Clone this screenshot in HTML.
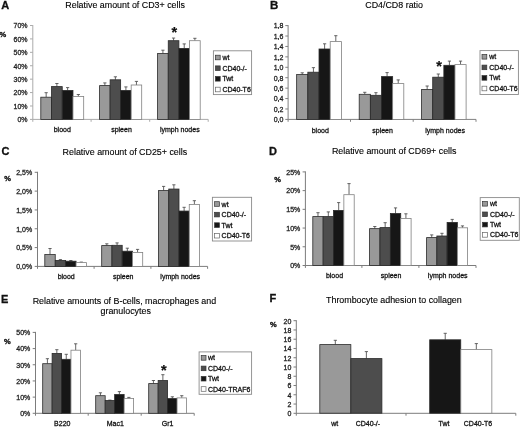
<!DOCTYPE html>
<html><head><meta charset="utf-8"><style>
html,body{margin:0;padding:0;background:#fff;}
body{width:520px;height:427px;overflow:hidden;}
svg{display:block;font-family:"Liberation Sans", sans-serif;filter:blur(0.3px);}
</style></head><body>
<svg width="520" height="427" viewBox="0 0 520 427">
<rect width="520" height="427" fill="#fff"/>
<text x="1.27" y="8.6" font-size="11" text-anchor="start" font-weight="bold" fill="#111" stroke="#111" stroke-width="0.3">A</text>
<text x="125.1" y="7.6" font-size="8.9" text-anchor="middle" font-weight="normal" fill="#000" stroke="#000" stroke-width="0.12">Relative amount of CD3+ cells</text>
<text x="-0.5" y="36.5" font-size="7.5" text-anchor="start" font-weight="bold" fill="#111" stroke="#111" stroke-width="0.35">%</text>
<line x1="32.8" y1="25.0" x2="32.8" y2="121.8" stroke="#ababab" stroke-width="1"/>
<line x1="30" y1="119.4" x2="32.8" y2="119.4" stroke="#ababab" stroke-width="1"/>
<text x="27.6" y="122.2" font-size="7" text-anchor="end" font-weight="normal" fill="#222" stroke="#222" stroke-width="0.28">0%</text>
<line x1="30" y1="105.99" x2="32.8" y2="105.99" stroke="#ababab" stroke-width="1"/>
<text x="27.6" y="108.79" font-size="7" text-anchor="end" font-weight="normal" fill="#222" stroke="#222" stroke-width="0.28">10%</text>
<line x1="30" y1="92.57" x2="32.8" y2="92.57" stroke="#ababab" stroke-width="1"/>
<text x="27.6" y="95.37" font-size="7" text-anchor="end" font-weight="normal" fill="#222" stroke="#222" stroke-width="0.28">20%</text>
<line x1="30" y1="79.16" x2="32.8" y2="79.16" stroke="#ababab" stroke-width="1"/>
<text x="27.6" y="81.96" font-size="7" text-anchor="end" font-weight="normal" fill="#222" stroke="#222" stroke-width="0.28">30%</text>
<line x1="30" y1="65.74" x2="32.8" y2="65.74" stroke="#ababab" stroke-width="1"/>
<text x="27.6" y="68.54" font-size="7" text-anchor="end" font-weight="normal" fill="#222" stroke="#222" stroke-width="0.28">40%</text>
<line x1="30" y1="52.33" x2="32.8" y2="52.33" stroke="#ababab" stroke-width="1"/>
<text x="27.6" y="55.13" font-size="7" text-anchor="end" font-weight="normal" fill="#222" stroke="#222" stroke-width="0.28">50%</text>
<line x1="30" y1="38.91" x2="32.8" y2="38.91" stroke="#ababab" stroke-width="1"/>
<text x="27.6" y="41.71" font-size="7" text-anchor="end" font-weight="normal" fill="#222" stroke="#222" stroke-width="0.28">60%</text>
<line x1="30" y1="25.5" x2="32.8" y2="25.5" stroke="#ababab" stroke-width="1"/>
<text x="27.6" y="28.3" font-size="7" text-anchor="end" font-weight="normal" fill="#222" stroke="#222" stroke-width="0.28">70%</text>
<line x1="32.8" y1="119.4" x2="208.2" y2="119.4" stroke="#ababab" stroke-width="1"/>
<line x1="91.1" y1="119.4" x2="91.1" y2="121.8" stroke="#ababab" stroke-width="1"/>
<line x1="149.7" y1="119.4" x2="149.7" y2="121.8" stroke="#ababab" stroke-width="1"/>
<line x1="208.2" y1="119.4" x2="208.2" y2="121.8" stroke="#ababab" stroke-width="1"/>
<text x="62.3" y="132.4" font-size="7" text-anchor="middle" font-weight="normal" fill="#111" stroke="#111" stroke-width="0.28">blood</text>
<text x="121.5" y="132.4" font-size="7" text-anchor="middle" font-weight="normal" fill="#111" stroke="#111" stroke-width="0.28">spleen</text>
<text x="179.8" y="132.4" font-size="7" text-anchor="middle" font-weight="normal" fill="#111" stroke="#111" stroke-width="0.28">lymph nodes</text>
<line x1="46.16" y1="97.2" x2="46.16" y2="92.7" stroke="#4a4a4a" stroke-width="0.85"/>
<line x1="44.56" y1="92.7" x2="47.76" y2="92.7" stroke="#4a4a4a" stroke-width="0.85"/>
<rect x="40.8" y="97.2" width="10.72" height="22.2" fill="#999999" stroke="#2a2a2a" stroke-width="0.8"/>
<line x1="56.89" y1="86.6" x2="56.89" y2="83.5" stroke="#4a4a4a" stroke-width="0.85"/>
<line x1="55.29" y1="83.5" x2="58.49" y2="83.5" stroke="#4a4a4a" stroke-width="0.85"/>
<rect x="51.52" y="86.6" width="10.72" height="32.8" fill="#4d4d4d" stroke="#2a2a2a" stroke-width="0.8"/>
<line x1="67.61" y1="90.4" x2="67.61" y2="87.6" stroke="#4a4a4a" stroke-width="0.85"/>
<line x1="66.01" y1="87.6" x2="69.21" y2="87.6" stroke="#4a4a4a" stroke-width="0.85"/>
<rect x="62.25" y="90.4" width="10.72" height="29" fill="#161616" stroke="#2a2a2a" stroke-width="0.8"/>
<line x1="78.34" y1="96.4" x2="78.34" y2="94.5" stroke="#4a4a4a" stroke-width="0.85"/>
<line x1="76.74" y1="94.5" x2="79.94" y2="94.5" stroke="#4a4a4a" stroke-width="0.85"/>
<rect x="72.97" y="96.4" width="10.72" height="23" fill="#ffffff" stroke="#808080" stroke-width="0.8"/>
<line x1="104.86" y1="85.6" x2="104.86" y2="82.9" stroke="#4a4a4a" stroke-width="0.85"/>
<line x1="103.26" y1="82.9" x2="106.46" y2="82.9" stroke="#4a4a4a" stroke-width="0.85"/>
<rect x="99.6" y="85.6" width="10.52" height="33.8" fill="#999999" stroke="#2a2a2a" stroke-width="0.8"/>
<line x1="115.39" y1="79.8" x2="115.39" y2="76.8" stroke="#4a4a4a" stroke-width="0.85"/>
<line x1="113.79" y1="76.8" x2="116.99" y2="76.8" stroke="#4a4a4a" stroke-width="0.85"/>
<rect x="110.12" y="79.8" width="10.52" height="39.6" fill="#4d4d4d" stroke="#2a2a2a" stroke-width="0.8"/>
<line x1="125.91" y1="90.4" x2="125.91" y2="86.9" stroke="#4a4a4a" stroke-width="0.85"/>
<line x1="124.31" y1="86.9" x2="127.51" y2="86.9" stroke="#4a4a4a" stroke-width="0.85"/>
<rect x="120.65" y="90.4" width="10.52" height="29" fill="#161616" stroke="#2a2a2a" stroke-width="0.8"/>
<line x1="136.44" y1="85.0" x2="136.44" y2="81.4" stroke="#4a4a4a" stroke-width="0.85"/>
<line x1="134.84" y1="81.4" x2="138.04" y2="81.4" stroke="#4a4a4a" stroke-width="0.85"/>
<rect x="131.18" y="85.0" width="10.52" height="34.4" fill="#ffffff" stroke="#808080" stroke-width="0.8"/>
<line x1="162.92" y1="53.4" x2="162.92" y2="50.2" stroke="#4a4a4a" stroke-width="0.85"/>
<line x1="161.32" y1="50.2" x2="164.52" y2="50.2" stroke="#4a4a4a" stroke-width="0.85"/>
<rect x="157.6" y="53.4" width="10.65" height="66.0" fill="#999999" stroke="#2a2a2a" stroke-width="0.8"/>
<line x1="173.57" y1="40.7" x2="173.57" y2="38.05" stroke="#4a4a4a" stroke-width="0.85"/>
<line x1="171.97" y1="38.05" x2="175.17" y2="38.05" stroke="#4a4a4a" stroke-width="0.85"/>
<rect x="168.25" y="40.7" width="10.65" height="78.7" fill="#4d4d4d" stroke="#2a2a2a" stroke-width="0.8"/>
<line x1="184.22" y1="48.4" x2="184.22" y2="43.9" stroke="#4a4a4a" stroke-width="0.85"/>
<line x1="182.62" y1="43.9" x2="185.82" y2="43.9" stroke="#4a4a4a" stroke-width="0.85"/>
<rect x="178.9" y="48.4" width="10.65" height="71.0" fill="#161616" stroke="#2a2a2a" stroke-width="0.8"/>
<line x1="194.88" y1="40.7" x2="194.88" y2="38.3" stroke="#4a4a4a" stroke-width="0.85"/>
<line x1="193.28" y1="38.3" x2="196.47" y2="38.3" stroke="#4a4a4a" stroke-width="0.85"/>
<rect x="189.55" y="40.7" width="10.65" height="78.7" fill="#ffffff" stroke="#808080" stroke-width="0.8"/>
<text x="174.3" y="36.6" font-size="14.5" text-anchor="middle" font-weight="bold" fill="#111" stroke="#111" stroke-width="0.2">*</text>
<rect x="213.4" y="50.8" width="38.2" height="43.8" fill="#fff" stroke="#8a8a8a" stroke-width="0.9"/>
<rect x="215.4" y="55.2" width="4.8" height="4.6" fill="#999999" stroke="#333" stroke-width="0.7"/>
<text x="222.4" y="60.0" font-size="7" text-anchor="start" font-weight="normal" fill="#111" stroke="#111" stroke-width="0.28">wt</text>
<rect x="215.4" y="65.9" width="4.8" height="4.6" fill="#4d4d4d" stroke="#333" stroke-width="0.7"/>
<text x="222.4" y="70.7" font-size="7" text-anchor="start" font-weight="normal" fill="#111" stroke="#111" stroke-width="0.28">CD40-/-</text>
<rect x="215.4" y="76.5" width="4.8" height="4.6" fill="#161616" stroke="#333" stroke-width="0.7"/>
<text x="222.4" y="81.3" font-size="7" text-anchor="start" font-weight="normal" fill="#111" stroke="#111" stroke-width="0.28">Twt</text>
<rect x="215.4" y="87.2" width="4.8" height="4.6" fill="#ffffff" stroke="#666" stroke-width="0.7"/>
<text x="222.4" y="92.0" font-size="7" text-anchor="start" font-weight="normal" fill="#111" stroke="#111" stroke-width="0.28">CD40-T6</text>
<text x="270.0" y="8.5" font-size="11.5" text-anchor="start" font-weight="bold" fill="#111" stroke="#111" stroke-width="0.3">B</text>
<text x="394.1" y="7.7" font-size="8.9" text-anchor="middle" font-weight="normal" fill="#000" stroke="#000" stroke-width="0.12">CD4/CD8 ratio</text>
<line x1="288.1" y1="25.1" x2="288.1" y2="121.8" stroke="#808080" stroke-width="1"/>
<line x1="285.3" y1="119.4" x2="288.1" y2="119.4" stroke="#808080" stroke-width="1"/>
<text x="283.4" y="122.2" font-size="7" text-anchor="end" font-weight="normal" fill="#222" stroke="#222" stroke-width="0.28">0,0</text>
<line x1="285.3" y1="108.98" x2="288.1" y2="108.98" stroke="#808080" stroke-width="1"/>
<text x="283.4" y="111.78" font-size="7" text-anchor="end" font-weight="normal" fill="#222" stroke="#222" stroke-width="0.28">0,2</text>
<line x1="285.3" y1="98.56" x2="288.1" y2="98.56" stroke="#808080" stroke-width="1"/>
<text x="283.4" y="101.36" font-size="7" text-anchor="end" font-weight="normal" fill="#222" stroke="#222" stroke-width="0.28">0,4</text>
<line x1="285.3" y1="88.13" x2="288.1" y2="88.13" stroke="#808080" stroke-width="1"/>
<text x="283.4" y="90.93" font-size="7" text-anchor="end" font-weight="normal" fill="#222" stroke="#222" stroke-width="0.28">0,6</text>
<line x1="285.3" y1="77.71" x2="288.1" y2="77.71" stroke="#808080" stroke-width="1"/>
<text x="283.4" y="80.51" font-size="7" text-anchor="end" font-weight="normal" fill="#222" stroke="#222" stroke-width="0.28">0,8</text>
<line x1="285.3" y1="67.29" x2="288.1" y2="67.29" stroke="#808080" stroke-width="1"/>
<text x="283.4" y="70.09" font-size="7" text-anchor="end" font-weight="normal" fill="#222" stroke="#222" stroke-width="0.28">1,0</text>
<line x1="285.3" y1="56.87" x2="288.1" y2="56.87" stroke="#808080" stroke-width="1"/>
<text x="283.4" y="59.67" font-size="7" text-anchor="end" font-weight="normal" fill="#222" stroke="#222" stroke-width="0.28">1,2</text>
<line x1="285.3" y1="46.44" x2="288.1" y2="46.44" stroke="#808080" stroke-width="1"/>
<text x="283.4" y="49.24" font-size="7" text-anchor="end" font-weight="normal" fill="#222" stroke="#222" stroke-width="0.28">1,4</text>
<line x1="285.3" y1="36.02" x2="288.1" y2="36.02" stroke="#808080" stroke-width="1"/>
<text x="283.4" y="38.82" font-size="7" text-anchor="end" font-weight="normal" fill="#222" stroke="#222" stroke-width="0.28">1,6</text>
<line x1="285.3" y1="25.6" x2="288.1" y2="25.6" stroke="#808080" stroke-width="1"/>
<text x="283.4" y="28.4" font-size="7" text-anchor="end" font-weight="normal" fill="#222" stroke="#222" stroke-width="0.28">1,8</text>
<line x1="288.1" y1="119.4" x2="476.0" y2="119.4" stroke="#808080" stroke-width="1"/>
<line x1="350.5" y1="119.4" x2="350.5" y2="121.8" stroke="#808080" stroke-width="1"/>
<line x1="413.2" y1="119.4" x2="413.2" y2="121.8" stroke="#808080" stroke-width="1"/>
<line x1="476.0" y1="119.4" x2="476.0" y2="121.8" stroke="#808080" stroke-width="1"/>
<text x="320.3" y="132.5" font-size="7" text-anchor="middle" font-weight="normal" fill="#111" stroke="#111" stroke-width="0.28">blood</text>
<text x="382.6" y="132.5" font-size="7" text-anchor="middle" font-weight="normal" fill="#111" stroke="#111" stroke-width="0.28">spleen</text>
<text x="445.1" y="132.5" font-size="7" text-anchor="middle" font-weight="normal" fill="#111" stroke="#111" stroke-width="0.28">lymph nodes</text>
<line x1="302.24" y1="74.5" x2="302.24" y2="72.8" stroke="#4a4a4a" stroke-width="0.85"/>
<line x1="300.64" y1="72.8" x2="303.84" y2="72.8" stroke="#4a4a4a" stroke-width="0.85"/>
<rect x="296.65" y="74.5" width="11.19" height="44.9" fill="#999999" stroke="#2a2a2a" stroke-width="0.8"/>
<line x1="313.43" y1="72.2" x2="313.43" y2="67.65" stroke="#4a4a4a" stroke-width="0.85"/>
<line x1="311.83" y1="67.65" x2="315.03" y2="67.65" stroke="#4a4a4a" stroke-width="0.85"/>
<rect x="307.84" y="72.2" width="11.19" height="47.2" fill="#4d4d4d" stroke="#2a2a2a" stroke-width="0.8"/>
<line x1="324.62" y1="49.0" x2="324.62" y2="43.8" stroke="#4a4a4a" stroke-width="0.85"/>
<line x1="323.02" y1="43.8" x2="326.22" y2="43.8" stroke="#4a4a4a" stroke-width="0.85"/>
<rect x="319.02" y="49.0" width="11.19" height="70.4" fill="#161616" stroke="#2a2a2a" stroke-width="0.8"/>
<line x1="335.81" y1="41.6" x2="335.81" y2="35.7" stroke="#4a4a4a" stroke-width="0.85"/>
<line x1="334.21" y1="35.7" x2="337.41" y2="35.7" stroke="#4a4a4a" stroke-width="0.85"/>
<rect x="330.21" y="41.6" width="11.19" height="77.8" fill="#ffffff" stroke="#808080" stroke-width="0.8"/>
<line x1="364.77" y1="94.3" x2="364.77" y2="92.3" stroke="#4a4a4a" stroke-width="0.85"/>
<line x1="363.17" y1="92.3" x2="366.38" y2="92.3" stroke="#4a4a4a" stroke-width="0.85"/>
<rect x="359.2" y="94.3" width="11.15" height="25.1" fill="#999999" stroke="#2a2a2a" stroke-width="0.8"/>
<line x1="375.92" y1="95.3" x2="375.92" y2="92.7" stroke="#4a4a4a" stroke-width="0.85"/>
<line x1="374.32" y1="92.7" x2="377.52" y2="92.7" stroke="#4a4a4a" stroke-width="0.85"/>
<rect x="370.35" y="95.3" width="11.15" height="24.1" fill="#4d4d4d" stroke="#2a2a2a" stroke-width="0.8"/>
<line x1="387.07" y1="76.6" x2="387.07" y2="72.6" stroke="#4a4a4a" stroke-width="0.85"/>
<line x1="385.47" y1="72.6" x2="388.68" y2="72.6" stroke="#4a4a4a" stroke-width="0.85"/>
<rect x="381.5" y="76.6" width="11.15" height="42.8" fill="#161616" stroke="#2a2a2a" stroke-width="0.8"/>
<line x1="398.22" y1="83.6" x2="398.22" y2="79.9" stroke="#4a4a4a" stroke-width="0.85"/>
<line x1="396.62" y1="79.9" x2="399.82" y2="79.9" stroke="#4a4a4a" stroke-width="0.85"/>
<rect x="392.65" y="83.6" width="11.15" height="35.8" fill="#ffffff" stroke="#808080" stroke-width="0.8"/>
<line x1="427.16" y1="89.4" x2="427.16" y2="86.0" stroke="#4a4a4a" stroke-width="0.85"/>
<line x1="425.56" y1="86.0" x2="428.76" y2="86.0" stroke="#4a4a4a" stroke-width="0.85"/>
<rect x="421.6" y="89.4" width="11.13" height="30" fill="#999999" stroke="#2a2a2a" stroke-width="0.8"/>
<line x1="438.29" y1="77.2" x2="438.29" y2="74.0" stroke="#4a4a4a" stroke-width="0.85"/>
<line x1="436.69" y1="74.0" x2="439.89" y2="74.0" stroke="#4a4a4a" stroke-width="0.85"/>
<rect x="432.72" y="77.2" width="11.13" height="42.2" fill="#4d4d4d" stroke="#2a2a2a" stroke-width="0.8"/>
<line x1="449.41" y1="65.3" x2="449.41" y2="61.1" stroke="#4a4a4a" stroke-width="0.85"/>
<line x1="447.81" y1="61.1" x2="451.01" y2="61.1" stroke="#4a4a4a" stroke-width="0.85"/>
<rect x="443.85" y="65.3" width="11.13" height="54.1" fill="#161616" stroke="#2a2a2a" stroke-width="0.8"/>
<line x1="460.54" y1="64.6" x2="460.54" y2="61.1" stroke="#4a4a4a" stroke-width="0.85"/>
<line x1="458.94" y1="61.1" x2="462.14" y2="61.1" stroke="#4a4a4a" stroke-width="0.85"/>
<rect x="454.97" y="64.6" width="11.13" height="54.8" fill="#ffffff" stroke="#808080" stroke-width="0.8"/>
<text x="439.1" y="71.2" font-size="14.5" text-anchor="middle" font-weight="bold" fill="#111" stroke="#111" stroke-width="0.2">*</text>
<rect x="480.0" y="50.6" width="38.4" height="43.9" fill="#fff" stroke="#8a8a8a" stroke-width="0.9"/>
<rect x="482.0" y="54.5" width="4.8" height="4.6" fill="#999999" stroke="#333" stroke-width="0.7"/>
<text x="489.3" y="59.3" font-size="7" text-anchor="start" font-weight="normal" fill="#111" stroke="#111" stroke-width="0.28">wt</text>
<rect x="482.0" y="65.1" width="4.8" height="4.6" fill="#4d4d4d" stroke="#333" stroke-width="0.7"/>
<text x="489.3" y="69.9" font-size="7" text-anchor="start" font-weight="normal" fill="#111" stroke="#111" stroke-width="0.28">CD40-/-</text>
<rect x="482.0" y="75.6" width="4.8" height="4.6" fill="#161616" stroke="#333" stroke-width="0.7"/>
<text x="489.3" y="80.4" font-size="7" text-anchor="start" font-weight="normal" fill="#111" stroke="#111" stroke-width="0.28">Twt</text>
<rect x="482.0" y="86.2" width="4.8" height="4.6" fill="#ffffff" stroke="#666" stroke-width="0.7"/>
<text x="489.3" y="91.0" font-size="7" text-anchor="start" font-weight="normal" fill="#111" stroke="#111" stroke-width="0.28">CD40-T6</text>
<text x="1.46" y="155.4" font-size="11" text-anchor="start" font-weight="bold" fill="#111" stroke="#111" stroke-width="0.3">C</text>
<text x="124.9" y="154.6" font-size="8.9" text-anchor="middle" font-weight="normal" fill="#000" stroke="#000" stroke-width="0.12">Relative amount of CD25+ cells</text>
<text x="4.25" y="181.3" font-size="7.5" text-anchor="start" font-weight="bold" fill="#111" stroke="#111" stroke-width="0.35">%</text>
<line x1="37.5" y1="171.8" x2="37.5" y2="268.8" stroke="#7c7c7c" stroke-width="1"/>
<line x1="34.7" y1="266.4" x2="37.5" y2="266.4" stroke="#7c7c7c" stroke-width="1"/>
<text x="32.2" y="269.2" font-size="7" text-anchor="end" font-weight="normal" fill="#222" stroke="#222" stroke-width="0.28">0,0%</text>
<line x1="34.7" y1="247.58" x2="37.5" y2="247.58" stroke="#7c7c7c" stroke-width="1"/>
<text x="32.2" y="250.38" font-size="7" text-anchor="end" font-weight="normal" fill="#222" stroke="#222" stroke-width="0.28">0,5%</text>
<line x1="34.7" y1="228.76" x2="37.5" y2="228.76" stroke="#7c7c7c" stroke-width="1"/>
<text x="32.2" y="231.56" font-size="7" text-anchor="end" font-weight="normal" fill="#222" stroke="#222" stroke-width="0.28">1,0%</text>
<line x1="34.7" y1="209.94" x2="37.5" y2="209.94" stroke="#7c7c7c" stroke-width="1"/>
<text x="32.2" y="212.74" font-size="7" text-anchor="end" font-weight="normal" fill="#222" stroke="#222" stroke-width="0.28">1,5%</text>
<line x1="34.7" y1="191.12" x2="37.5" y2="191.12" stroke="#7c7c7c" stroke-width="1"/>
<text x="32.2" y="193.92" font-size="7" text-anchor="end" font-weight="normal" fill="#222" stroke="#222" stroke-width="0.28">2,0%</text>
<line x1="34.7" y1="172.3" x2="37.5" y2="172.3" stroke="#7c7c7c" stroke-width="1"/>
<text x="32.2" y="175.1" font-size="7" text-anchor="end" font-weight="normal" fill="#222" stroke="#222" stroke-width="0.28">2,5%</text>
<line x1="37.5" y1="266.4" x2="207.6" y2="266.4" stroke="#7c7c7c" stroke-width="1"/>
<line x1="94.1" y1="266.4" x2="94.1" y2="268.8" stroke="#7c7c7c" stroke-width="1"/>
<line x1="150.9" y1="266.4" x2="150.9" y2="268.8" stroke="#7c7c7c" stroke-width="1"/>
<line x1="207.6" y1="266.4" x2="207.6" y2="268.8" stroke="#7c7c7c" stroke-width="1"/>
<text x="66.2" y="279.0" font-size="7" text-anchor="middle" font-weight="normal" fill="#111" stroke="#111" stroke-width="0.28">blood</text>
<text x="123.2" y="279.0" font-size="7" text-anchor="middle" font-weight="normal" fill="#111" stroke="#111" stroke-width="0.28">spleen</text>
<text x="180.2" y="279.0" font-size="7" text-anchor="middle" font-weight="normal" fill="#111" stroke="#111" stroke-width="0.28">lymph nodes</text>
<line x1="50.01" y1="254.55" x2="50.01" y2="248.5" stroke="#4a4a4a" stroke-width="0.85"/>
<line x1="48.41" y1="248.5" x2="51.61" y2="248.5" stroke="#4a4a4a" stroke-width="0.85"/>
<rect x="44.8" y="254.55" width="10.43" height="11.85" fill="#999999" stroke="#2a2a2a" stroke-width="0.8"/>
<line x1="60.44" y1="260.4" x2="60.44" y2="259.6" stroke="#4a4a4a" stroke-width="0.85"/>
<line x1="58.84" y1="259.6" x2="62.04" y2="259.6" stroke="#4a4a4a" stroke-width="0.85"/>
<rect x="55.23" y="260.4" width="10.43" height="6" fill="#4d4d4d" stroke="#2a2a2a" stroke-width="0.8"/>
<line x1="70.86" y1="261.2" x2="70.86" y2="260.5" stroke="#4a4a4a" stroke-width="0.85"/>
<line x1="69.26" y1="260.5" x2="72.46" y2="260.5" stroke="#4a4a4a" stroke-width="0.85"/>
<rect x="65.65" y="261.2" width="10.43" height="5.2" fill="#161616" stroke="#2a2a2a" stroke-width="0.8"/>
<line x1="81.29" y1="262.6" x2="81.29" y2="262.1" stroke="#4a4a4a" stroke-width="0.85"/>
<line x1="79.69" y1="262.1" x2="82.89" y2="262.1" stroke="#4a4a4a" stroke-width="0.85"/>
<rect x="76.08" y="262.6" width="10.43" height="3.8" fill="#ffffff" stroke="#808080" stroke-width="0.8"/>
<line x1="106.83" y1="245.6" x2="106.83" y2="243.8" stroke="#4a4a4a" stroke-width="0.85"/>
<line x1="105.23" y1="243.8" x2="108.42" y2="243.8" stroke="#4a4a4a" stroke-width="0.85"/>
<rect x="101.7" y="245.6" width="10.25" height="20.8" fill="#999999" stroke="#2a2a2a" stroke-width="0.8"/>
<line x1="117.08" y1="245.3" x2="117.08" y2="242.9" stroke="#4a4a4a" stroke-width="0.85"/>
<line x1="115.48" y1="242.9" x2="118.67" y2="242.9" stroke="#4a4a4a" stroke-width="0.85"/>
<rect x="111.95" y="245.3" width="10.25" height="21.1" fill="#4d4d4d" stroke="#2a2a2a" stroke-width="0.8"/>
<line x1="127.33" y1="251.2" x2="127.33" y2="248.2" stroke="#4a4a4a" stroke-width="0.85"/>
<line x1="125.73" y1="248.2" x2="128.93" y2="248.2" stroke="#4a4a4a" stroke-width="0.85"/>
<rect x="122.2" y="251.2" width="10.25" height="15.2" fill="#161616" stroke="#2a2a2a" stroke-width="0.8"/>
<line x1="137.57" y1="252.4" x2="137.57" y2="249.4" stroke="#4a4a4a" stroke-width="0.85"/>
<line x1="135.97" y1="249.4" x2="139.17" y2="249.4" stroke="#4a4a4a" stroke-width="0.85"/>
<rect x="132.45" y="252.4" width="10.25" height="14" fill="#ffffff" stroke="#808080" stroke-width="0.8"/>
<line x1="163.62" y1="190.6" x2="163.62" y2="186.4" stroke="#4a4a4a" stroke-width="0.85"/>
<line x1="162.03" y1="186.4" x2="165.22" y2="186.4" stroke="#4a4a4a" stroke-width="0.85"/>
<rect x="158.5" y="190.6" width="10.25" height="75.8" fill="#999999" stroke="#2a2a2a" stroke-width="0.8"/>
<line x1="173.88" y1="189.05" x2="173.88" y2="184.8" stroke="#4a4a4a" stroke-width="0.85"/>
<line x1="172.28" y1="184.8" x2="175.47" y2="184.8" stroke="#4a4a4a" stroke-width="0.85"/>
<rect x="168.75" y="189.05" width="10.25" height="77.35" fill="#4d4d4d" stroke="#2a2a2a" stroke-width="0.8"/>
<line x1="184.12" y1="211.05" x2="184.12" y2="207.3" stroke="#4a4a4a" stroke-width="0.85"/>
<line x1="182.53" y1="207.3" x2="185.72" y2="207.3" stroke="#4a4a4a" stroke-width="0.85"/>
<rect x="179.0" y="211.05" width="10.25" height="55.35" fill="#161616" stroke="#2a2a2a" stroke-width="0.8"/>
<line x1="194.38" y1="204.4" x2="194.38" y2="200.7" stroke="#4a4a4a" stroke-width="0.85"/>
<line x1="192.78" y1="200.7" x2="195.97" y2="200.7" stroke="#4a4a4a" stroke-width="0.85"/>
<rect x="189.25" y="204.4" width="10.25" height="62" fill="#ffffff" stroke="#808080" stroke-width="0.8"/>
<rect x="212.4" y="197.3" width="39.2" height="43.7" fill="#fff" stroke="#8a8a8a" stroke-width="0.9"/>
<rect x="214.6" y="201.7" width="4.8" height="4.6" fill="#999999" stroke="#333" stroke-width="0.7"/>
<text x="221.6" y="206.5" font-size="7" text-anchor="start" font-weight="normal" fill="#111" stroke="#111" stroke-width="0.28">wt</text>
<rect x="214.6" y="212.3" width="4.8" height="4.6" fill="#4d4d4d" stroke="#333" stroke-width="0.7"/>
<text x="221.6" y="217.1" font-size="7" text-anchor="start" font-weight="normal" fill="#111" stroke="#111" stroke-width="0.28">CD40-/-</text>
<rect x="214.6" y="222.8" width="4.8" height="4.6" fill="#161616" stroke="#333" stroke-width="0.7"/>
<text x="221.6" y="227.6" font-size="7" text-anchor="start" font-weight="normal" fill="#111" stroke="#111" stroke-width="0.28">Twt</text>
<rect x="214.6" y="233.4" width="4.8" height="4.6" fill="#ffffff" stroke="#666" stroke-width="0.7"/>
<text x="221.6" y="238.2" font-size="7" text-anchor="start" font-weight="normal" fill="#111" stroke="#111" stroke-width="0.28">CD40-T6</text>
<text x="269.0" y="154.85" font-size="11" text-anchor="start" font-weight="bold" fill="#111" stroke="#111" stroke-width="0.3">D</text>
<text x="394.2" y="154.4" font-size="8.9" text-anchor="middle" font-weight="normal" fill="#000" stroke="#000" stroke-width="0.12">Relative amount of CD69+ cells</text>
<text x="274.25" y="181.85" font-size="7.5" text-anchor="start" font-weight="bold" fill="#111" stroke="#111" stroke-width="0.35">%</text>
<line x1="305.4" y1="171.4" x2="305.4" y2="267.9" stroke="#7c7c7c" stroke-width="1"/>
<line x1="302.6" y1="265.5" x2="305.4" y2="265.5" stroke="#7c7c7c" stroke-width="1"/>
<text x="300.3" y="268.3" font-size="7" text-anchor="end" font-weight="normal" fill="#222" stroke="#222" stroke-width="0.28">0%</text>
<line x1="302.6" y1="246.78" x2="305.4" y2="246.78" stroke="#7c7c7c" stroke-width="1"/>
<text x="300.3" y="249.58" font-size="7" text-anchor="end" font-weight="normal" fill="#222" stroke="#222" stroke-width="0.28">5%</text>
<line x1="302.6" y1="228.06" x2="305.4" y2="228.06" stroke="#7c7c7c" stroke-width="1"/>
<text x="300.3" y="230.86" font-size="7" text-anchor="end" font-weight="normal" fill="#222" stroke="#222" stroke-width="0.28">10%</text>
<line x1="302.6" y1="209.34" x2="305.4" y2="209.34" stroke="#7c7c7c" stroke-width="1"/>
<text x="300.3" y="212.14" font-size="7" text-anchor="end" font-weight="normal" fill="#222" stroke="#222" stroke-width="0.28">15%</text>
<line x1="302.6" y1="190.62" x2="305.4" y2="190.62" stroke="#7c7c7c" stroke-width="1"/>
<text x="300.3" y="193.42" font-size="7" text-anchor="end" font-weight="normal" fill="#222" stroke="#222" stroke-width="0.28">20%</text>
<line x1="302.6" y1="171.9" x2="305.4" y2="171.9" stroke="#7c7c7c" stroke-width="1"/>
<text x="300.3" y="174.7" font-size="7" text-anchor="end" font-weight="normal" fill="#222" stroke="#222" stroke-width="0.28">25%</text>
<line x1="305.4" y1="265.5" x2="476.0" y2="265.5" stroke="#7c7c7c" stroke-width="1"/>
<line x1="361.9" y1="265.5" x2="361.9" y2="267.9" stroke="#7c7c7c" stroke-width="1"/>
<line x1="418.9" y1="265.5" x2="418.9" y2="267.9" stroke="#7c7c7c" stroke-width="1"/>
<line x1="476.0" y1="265.5" x2="476.0" y2="267.9" stroke="#7c7c7c" stroke-width="1"/>
<text x="334.5" y="278.3" font-size="7" text-anchor="middle" font-weight="normal" fill="#111" stroke="#111" stroke-width="0.28">blood</text>
<text x="391.1" y="278.3" font-size="7" text-anchor="middle" font-weight="normal" fill="#111" stroke="#111" stroke-width="0.28">spleen</text>
<text x="447.7" y="278.3" font-size="7" text-anchor="middle" font-weight="normal" fill="#111" stroke="#111" stroke-width="0.28">lymph nodes</text>
<line x1="317.97" y1="216.6" x2="317.97" y2="212.7" stroke="#4a4a4a" stroke-width="0.85"/>
<line x1="316.37" y1="212.7" x2="319.57" y2="212.7" stroke="#4a4a4a" stroke-width="0.85"/>
<rect x="312.8" y="216.6" width="10.35" height="48.9" fill="#999999" stroke="#2a2a2a" stroke-width="0.8"/>
<line x1="328.32" y1="216.6" x2="328.32" y2="211.9" stroke="#4a4a4a" stroke-width="0.85"/>
<line x1="326.72" y1="211.9" x2="329.93" y2="211.9" stroke="#4a4a4a" stroke-width="0.85"/>
<rect x="323.15" y="216.6" width="10.35" height="48.9" fill="#4d4d4d" stroke="#2a2a2a" stroke-width="0.8"/>
<line x1="338.68" y1="210.4" x2="338.68" y2="202.6" stroke="#4a4a4a" stroke-width="0.85"/>
<line x1="337.07" y1="202.6" x2="340.28" y2="202.6" stroke="#4a4a4a" stroke-width="0.85"/>
<rect x="333.5" y="210.4" width="10.35" height="55.1" fill="#161616" stroke="#2a2a2a" stroke-width="0.8"/>
<line x1="349.02" y1="194.7" x2="349.02" y2="183.6" stroke="#4a4a4a" stroke-width="0.85"/>
<line x1="347.42" y1="183.6" x2="350.62" y2="183.6" stroke="#4a4a4a" stroke-width="0.85"/>
<rect x="343.85" y="194.7" width="10.35" height="70.8" fill="#ffffff" stroke="#808080" stroke-width="0.8"/>
<line x1="374.79" y1="228.65" x2="374.79" y2="226.5" stroke="#4a4a4a" stroke-width="0.85"/>
<line x1="373.19" y1="226.5" x2="376.39" y2="226.5" stroke="#4a4a4a" stroke-width="0.85"/>
<rect x="369.6" y="228.65" width="10.38" height="36.85" fill="#999999" stroke="#2a2a2a" stroke-width="0.8"/>
<line x1="385.16" y1="227.6" x2="385.16" y2="222.7" stroke="#4a4a4a" stroke-width="0.85"/>
<line x1="383.56" y1="222.7" x2="386.76" y2="222.7" stroke="#4a4a4a" stroke-width="0.85"/>
<rect x="379.97" y="227.6" width="10.38" height="37.9" fill="#4d4d4d" stroke="#2a2a2a" stroke-width="0.8"/>
<line x1="395.54" y1="213.5" x2="395.54" y2="207.9" stroke="#4a4a4a" stroke-width="0.85"/>
<line x1="393.94" y1="207.9" x2="397.14" y2="207.9" stroke="#4a4a4a" stroke-width="0.85"/>
<rect x="390.35" y="213.5" width="10.38" height="52.0" fill="#161616" stroke="#2a2a2a" stroke-width="0.8"/>
<line x1="405.91" y1="218.5" x2="405.91" y2="213.8" stroke="#4a4a4a" stroke-width="0.85"/>
<line x1="404.31" y1="213.8" x2="407.51" y2="213.8" stroke="#4a4a4a" stroke-width="0.85"/>
<rect x="400.72" y="218.5" width="10.38" height="47.0" fill="#ffffff" stroke="#808080" stroke-width="0.8"/>
<line x1="431.72" y1="237.6" x2="431.72" y2="234.9" stroke="#4a4a4a" stroke-width="0.85"/>
<line x1="430.12" y1="234.9" x2="433.32" y2="234.9" stroke="#4a4a4a" stroke-width="0.85"/>
<rect x="426.6" y="237.6" width="10.25" height="27.9" fill="#999999" stroke="#2a2a2a" stroke-width="0.8"/>
<line x1="441.97" y1="236.0" x2="441.97" y2="233.3" stroke="#4a4a4a" stroke-width="0.85"/>
<line x1="440.37" y1="233.3" x2="443.57" y2="233.3" stroke="#4a4a4a" stroke-width="0.85"/>
<rect x="436.85" y="236.0" width="10.25" height="29.5" fill="#4d4d4d" stroke="#2a2a2a" stroke-width="0.8"/>
<line x1="452.22" y1="222.4" x2="452.22" y2="219.4" stroke="#4a4a4a" stroke-width="0.85"/>
<line x1="450.62" y1="219.4" x2="453.82" y2="219.4" stroke="#4a4a4a" stroke-width="0.85"/>
<rect x="447.1" y="222.4" width="10.25" height="43.1" fill="#161616" stroke="#2a2a2a" stroke-width="0.8"/>
<line x1="462.47" y1="227.8" x2="462.47" y2="225.9" stroke="#4a4a4a" stroke-width="0.85"/>
<line x1="460.87" y1="225.9" x2="464.07" y2="225.9" stroke="#4a4a4a" stroke-width="0.85"/>
<rect x="457.35" y="227.8" width="10.25" height="37.7" fill="#ffffff" stroke="#808080" stroke-width="0.8"/>
<rect x="480.2" y="197.6" width="39.1" height="42.7" fill="#fff" stroke="#8a8a8a" stroke-width="0.9"/>
<rect x="482.6" y="201.5" width="4.8" height="4.6" fill="#999999" stroke="#333" stroke-width="0.7"/>
<text x="490.0" y="206.3" font-size="7" text-anchor="start" font-weight="normal" fill="#111" stroke="#111" stroke-width="0.28">wt</text>
<rect x="482.6" y="212.0" width="4.8" height="4.6" fill="#4d4d4d" stroke="#333" stroke-width="0.7"/>
<text x="490.0" y="216.8" font-size="7" text-anchor="start" font-weight="normal" fill="#111" stroke="#111" stroke-width="0.28">CD40-/-</text>
<rect x="482.6" y="222.3" width="4.8" height="4.6" fill="#161616" stroke="#333" stroke-width="0.7"/>
<text x="490.0" y="227.1" font-size="7" text-anchor="start" font-weight="normal" fill="#111" stroke="#111" stroke-width="0.28">Twt</text>
<rect x="482.6" y="232.6" width="4.8" height="4.6" fill="#ffffff" stroke="#666" stroke-width="0.7"/>
<text x="490.0" y="237.4" font-size="7" text-anchor="start" font-weight="normal" fill="#111" stroke="#111" stroke-width="0.28">CD40-T6</text>
<text x="0.88" y="302.9" font-size="11" text-anchor="start" font-weight="bold" fill="#111" stroke="#111" stroke-width="0.3">E</text>
<text x="124.4" y="304.2" font-size="8.9" text-anchor="middle" font-weight="normal" fill="#000" stroke="#000" stroke-width="0.12">Relative amounts of B-cells, macrophages and</text>
<text x="125.7" y="313.7" font-size="8.9" text-anchor="middle" font-weight="normal" fill="#000" stroke="#000" stroke-width="0.12">granulocytes</text>
<text x="4.0" y="344.2" font-size="7.5" text-anchor="start" font-weight="bold" fill="#111" stroke="#111" stroke-width="0.35">%</text>
<line x1="35.5" y1="331.9" x2="35.5" y2="415.7" stroke="#7c7c7c" stroke-width="1"/>
<line x1="32.7" y1="413.3" x2="35.5" y2="413.3" stroke="#7c7c7c" stroke-width="1"/>
<text x="30.3" y="416.1" font-size="7" text-anchor="end" font-weight="normal" fill="#222" stroke="#222" stroke-width="0.28">0%</text>
<line x1="32.7" y1="397.12" x2="35.5" y2="397.12" stroke="#7c7c7c" stroke-width="1"/>
<text x="30.3" y="399.92" font-size="7" text-anchor="end" font-weight="normal" fill="#222" stroke="#222" stroke-width="0.28">10%</text>
<line x1="32.7" y1="380.94" x2="35.5" y2="380.94" stroke="#7c7c7c" stroke-width="1"/>
<text x="30.3" y="383.74" font-size="7" text-anchor="end" font-weight="normal" fill="#222" stroke="#222" stroke-width="0.28">20%</text>
<line x1="32.7" y1="364.76" x2="35.5" y2="364.76" stroke="#7c7c7c" stroke-width="1"/>
<text x="30.3" y="367.56" font-size="7" text-anchor="end" font-weight="normal" fill="#222" stroke="#222" stroke-width="0.28">30%</text>
<line x1="32.7" y1="348.58" x2="35.5" y2="348.58" stroke="#7c7c7c" stroke-width="1"/>
<text x="30.3" y="351.38" font-size="7" text-anchor="end" font-weight="normal" fill="#222" stroke="#222" stroke-width="0.28">40%</text>
<line x1="32.7" y1="332.4" x2="35.5" y2="332.4" stroke="#7c7c7c" stroke-width="1"/>
<text x="30.3" y="335.2" font-size="7" text-anchor="end" font-weight="normal" fill="#222" stroke="#222" stroke-width="0.28">50%</text>
<line x1="35.5" y1="413.3" x2="194.2" y2="413.3" stroke="#7c7c7c" stroke-width="1"/>
<line x1="88.2" y1="413.3" x2="88.2" y2="415.7" stroke="#7c7c7c" stroke-width="1"/>
<line x1="141.2" y1="413.3" x2="141.2" y2="415.7" stroke="#7c7c7c" stroke-width="1"/>
<line x1="194.2" y1="413.3" x2="194.2" y2="415.7" stroke="#7c7c7c" stroke-width="1"/>
<text x="62.3" y="425.7" font-size="7" text-anchor="middle" font-weight="normal" fill="#111" stroke="#111" stroke-width="0.28">B220</text>
<text x="115.3" y="425.7" font-size="7" text-anchor="middle" font-weight="normal" fill="#111" stroke="#111" stroke-width="0.28">Mac1</text>
<text x="167.6" y="425.7" font-size="7" text-anchor="middle" font-weight="normal" fill="#111" stroke="#111" stroke-width="0.28">Gr1</text>
<line x1="47.41" y1="363.7" x2="47.41" y2="358.7" stroke="#4a4a4a" stroke-width="0.85"/>
<line x1="45.81" y1="358.7" x2="49.01" y2="358.7" stroke="#4a4a4a" stroke-width="0.85"/>
<rect x="42.7" y="363.7" width="9.43" height="49.6" fill="#999999" stroke="#2a2a2a" stroke-width="0.8"/>
<line x1="56.84" y1="353.4" x2="56.84" y2="349.7" stroke="#4a4a4a" stroke-width="0.85"/>
<line x1="55.24" y1="349.7" x2="58.44" y2="349.7" stroke="#4a4a4a" stroke-width="0.85"/>
<rect x="52.12" y="353.4" width="9.43" height="59.9" fill="#4d4d4d" stroke="#2a2a2a" stroke-width="0.8"/>
<line x1="66.26" y1="359.3" x2="66.26" y2="354.3" stroke="#4a4a4a" stroke-width="0.85"/>
<line x1="64.66" y1="354.3" x2="67.86" y2="354.3" stroke="#4a4a4a" stroke-width="0.85"/>
<rect x="61.55" y="359.3" width="9.43" height="54.0" fill="#161616" stroke="#2a2a2a" stroke-width="0.8"/>
<line x1="75.69" y1="350.2" x2="75.69" y2="343.8" stroke="#4a4a4a" stroke-width="0.85"/>
<line x1="74.09" y1="343.8" x2="77.29" y2="343.8" stroke="#4a4a4a" stroke-width="0.85"/>
<rect x="70.97" y="350.2" width="9.43" height="63.1" fill="#ffffff" stroke="#808080" stroke-width="0.8"/>
<line x1="100.44" y1="395.7" x2="100.44" y2="392.8" stroke="#4a4a4a" stroke-width="0.85"/>
<line x1="98.84" y1="392.8" x2="102.04" y2="392.8" stroke="#4a4a4a" stroke-width="0.85"/>
<rect x="95.7" y="395.7" width="9.48" height="17.6" fill="#999999" stroke="#2a2a2a" stroke-width="0.8"/>
<line x1="109.91" y1="400.5" x2="109.91" y2="400.1" stroke="#4a4a4a" stroke-width="0.85"/>
<line x1="108.31" y1="400.1" x2="111.51" y2="400.1" stroke="#4a4a4a" stroke-width="0.85"/>
<rect x="105.18" y="400.5" width="9.48" height="12.8" fill="#4d4d4d" stroke="#2a2a2a" stroke-width="0.8"/>
<line x1="119.39" y1="394.5" x2="119.39" y2="391.6" stroke="#4a4a4a" stroke-width="0.85"/>
<line x1="117.79" y1="391.6" x2="120.99" y2="391.6" stroke="#4a4a4a" stroke-width="0.85"/>
<rect x="114.65" y="394.5" width="9.48" height="18.8" fill="#161616" stroke="#2a2a2a" stroke-width="0.8"/>
<line x1="128.86" y1="398.4" x2="128.86" y2="397.4" stroke="#4a4a4a" stroke-width="0.85"/>
<line x1="127.26" y1="397.4" x2="130.46" y2="397.4" stroke="#4a4a4a" stroke-width="0.85"/>
<rect x="124.12" y="398.4" width="9.48" height="14.9" fill="#ffffff" stroke="#808080" stroke-width="0.8"/>
<line x1="153.43" y1="383.6" x2="153.43" y2="380.5" stroke="#4a4a4a" stroke-width="0.85"/>
<line x1="151.83" y1="380.5" x2="155.03" y2="380.5" stroke="#4a4a4a" stroke-width="0.85"/>
<rect x="148.7" y="383.6" width="9.45" height="29.7" fill="#999999" stroke="#2a2a2a" stroke-width="0.8"/>
<line x1="162.88" y1="380.5" x2="162.88" y2="374.7" stroke="#4a4a4a" stroke-width="0.85"/>
<line x1="161.28" y1="374.7" x2="164.47" y2="374.7" stroke="#4a4a4a" stroke-width="0.85"/>
<rect x="158.15" y="380.5" width="9.45" height="32.8" fill="#4d4d4d" stroke="#2a2a2a" stroke-width="0.8"/>
<line x1="172.33" y1="398.6" x2="172.33" y2="396.8" stroke="#4a4a4a" stroke-width="0.85"/>
<line x1="170.73" y1="396.8" x2="173.93" y2="396.8" stroke="#4a4a4a" stroke-width="0.85"/>
<rect x="167.6" y="398.6" width="9.45" height="14.7" fill="#161616" stroke="#2a2a2a" stroke-width="0.8"/>
<line x1="181.78" y1="397.9" x2="181.78" y2="395.7" stroke="#4a4a4a" stroke-width="0.85"/>
<line x1="180.18" y1="395.7" x2="183.38" y2="395.7" stroke="#4a4a4a" stroke-width="0.85"/>
<rect x="177.05" y="397.9" width="9.45" height="15.4" fill="#ffffff" stroke="#808080" stroke-width="0.8"/>
<text x="163.8" y="375.3" font-size="14.5" text-anchor="middle" font-weight="bold" fill="#111" stroke="#111" stroke-width="0.2">*</text>
<rect x="199.1" y="351.9" width="52.5" height="42.4" fill="#fff" stroke="#8a8a8a" stroke-width="0.9"/>
<rect x="201.2" y="355.6" width="4.8" height="4.6" fill="#999999" stroke="#333" stroke-width="0.7"/>
<text x="208.0" y="360.4" font-size="7" text-anchor="start" font-weight="normal" fill="#111" stroke="#111" stroke-width="0.28">wt</text>
<rect x="201.2" y="366.1" width="4.8" height="4.6" fill="#4d4d4d" stroke="#333" stroke-width="0.7"/>
<text x="208.0" y="370.9" font-size="7" text-anchor="start" font-weight="normal" fill="#111" stroke="#111" stroke-width="0.28">CD40-/-</text>
<rect x="201.2" y="376.4" width="4.8" height="4.6" fill="#161616" stroke="#333" stroke-width="0.7"/>
<text x="208.0" y="381.2" font-size="7" text-anchor="start" font-weight="normal" fill="#111" stroke="#111" stroke-width="0.28">Twt</text>
<rect x="201.2" y="386.7" width="4.8" height="4.6" fill="#ffffff" stroke="#666" stroke-width="0.7"/>
<text x="208.0" y="391.5" font-size="7" text-anchor="start" font-weight="normal" fill="#111" stroke="#111" stroke-width="0.28">CD40-TRAF6</text>
<text x="269.6" y="302.1" font-size="11" text-anchor="start" font-weight="bold" fill="#111" stroke="#111" stroke-width="0.3">F</text>
<text x="393.9" y="303.1" font-size="8.9" text-anchor="middle" font-weight="normal" fill="#000" stroke="#000" stroke-width="0.12">Thrombocyte adhesion to collagen</text>
<text x="270.0" y="326.85" font-size="7.5" text-anchor="start" font-weight="bold" fill="#111" stroke="#111" stroke-width="0.35">%</text>
<line x1="296.3" y1="320.2" x2="296.3" y2="415.7" stroke="#7c7c7c" stroke-width="1"/>
<line x1="293.5" y1="413.3" x2="296.3" y2="413.3" stroke="#7c7c7c" stroke-width="1"/>
<text x="291.3" y="416.1" font-size="7" text-anchor="end" font-weight="normal" fill="#222" stroke="#222" stroke-width="0.28">0</text>
<line x1="293.5" y1="404.04" x2="296.3" y2="404.04" stroke="#7c7c7c" stroke-width="1"/>
<text x="291.3" y="406.84" font-size="7" text-anchor="end" font-weight="normal" fill="#222" stroke="#222" stroke-width="0.28">2</text>
<line x1="293.5" y1="394.78" x2="296.3" y2="394.78" stroke="#7c7c7c" stroke-width="1"/>
<text x="291.3" y="397.58" font-size="7" text-anchor="end" font-weight="normal" fill="#222" stroke="#222" stroke-width="0.28">4</text>
<line x1="293.5" y1="385.52" x2="296.3" y2="385.52" stroke="#7c7c7c" stroke-width="1"/>
<text x="291.3" y="388.32" font-size="7" text-anchor="end" font-weight="normal" fill="#222" stroke="#222" stroke-width="0.28">6</text>
<line x1="293.5" y1="376.26" x2="296.3" y2="376.26" stroke="#7c7c7c" stroke-width="1"/>
<text x="291.3" y="379.06" font-size="7" text-anchor="end" font-weight="normal" fill="#222" stroke="#222" stroke-width="0.28">8</text>
<line x1="293.5" y1="367.0" x2="296.3" y2="367.0" stroke="#7c7c7c" stroke-width="1"/>
<text x="291.3" y="369.8" font-size="7" text-anchor="end" font-weight="normal" fill="#222" stroke="#222" stroke-width="0.28">10</text>
<line x1="293.5" y1="357.74" x2="296.3" y2="357.74" stroke="#7c7c7c" stroke-width="1"/>
<text x="291.3" y="360.54" font-size="7" text-anchor="end" font-weight="normal" fill="#222" stroke="#222" stroke-width="0.28">12</text>
<line x1="293.5" y1="348.48" x2="296.3" y2="348.48" stroke="#7c7c7c" stroke-width="1"/>
<text x="291.3" y="351.28" font-size="7" text-anchor="end" font-weight="normal" fill="#222" stroke="#222" stroke-width="0.28">14</text>
<line x1="293.5" y1="339.22" x2="296.3" y2="339.22" stroke="#7c7c7c" stroke-width="1"/>
<text x="291.3" y="342.02" font-size="7" text-anchor="end" font-weight="normal" fill="#222" stroke="#222" stroke-width="0.28">16</text>
<line x1="293.5" y1="329.96" x2="296.3" y2="329.96" stroke="#7c7c7c" stroke-width="1"/>
<text x="291.3" y="332.76" font-size="7" text-anchor="end" font-weight="normal" fill="#222" stroke="#222" stroke-width="0.28">18</text>
<line x1="293.5" y1="320.7" x2="296.3" y2="320.7" stroke="#7c7c7c" stroke-width="1"/>
<text x="291.3" y="323.5" font-size="7" text-anchor="end" font-weight="normal" fill="#222" stroke="#222" stroke-width="0.28">20</text>
<line x1="296.3" y1="413.3" x2="515.8" y2="413.3" stroke="#7c7c7c" stroke-width="1"/>
<line x1="406.0" y1="413.3" x2="406.0" y2="415.7" stroke="#7c7c7c" stroke-width="1"/>
<line x1="515.8" y1="413.3" x2="515.8" y2="415.7" stroke="#7c7c7c" stroke-width="1"/>
<line x1="335.32" y1="344.6" x2="335.32" y2="340.3" stroke="#4a4a4a" stroke-width="0.85"/>
<line x1="333.72" y1="340.3" x2="336.93" y2="340.3" stroke="#4a4a4a" stroke-width="0.85"/>
<rect x="319.8" y="344.6" width="31.05" height="68.6" fill="#999999" stroke="#2a2a2a" stroke-width="0.8"/>
<line x1="366.38" y1="358.6" x2="366.38" y2="351.6" stroke="#4a4a4a" stroke-width="0.85"/>
<line x1="364.77" y1="351.6" x2="367.98" y2="351.6" stroke="#4a4a4a" stroke-width="0.85"/>
<rect x="350.85" y="358.6" width="31.05" height="54.6" fill="#4d4d4d" stroke="#2a2a2a" stroke-width="0.8"/>
<line x1="445.22" y1="339.8" x2="445.22" y2="333.3" stroke="#4a4a4a" stroke-width="0.85"/>
<line x1="443.62" y1="333.3" x2="446.82" y2="333.3" stroke="#4a4a4a" stroke-width="0.85"/>
<rect x="429.7" y="339.8" width="31.05" height="73.4" fill="#161616" stroke="#2a2a2a" stroke-width="0.8"/>
<line x1="476.32" y1="349.6" x2="476.32" y2="343.6" stroke="#4a4a4a" stroke-width="0.85"/>
<line x1="474.72" y1="343.6" x2="477.93" y2="343.6" stroke="#4a4a4a" stroke-width="0.85"/>
<rect x="460.8" y="349.6" width="31.05" height="63.6" fill="#ffffff" stroke="#808080" stroke-width="0.8"/>
<text x="334.8" y="425.5" font-size="7" text-anchor="middle" font-weight="normal" fill="#111" stroke="#111" stroke-width="0.28">wt</text>
<text x="367.9" y="425.5" font-size="7" text-anchor="middle" font-weight="normal" fill="#111" stroke="#111" stroke-width="0.28">CD40-/-</text>
<text x="444.0" y="425.5" font-size="7" text-anchor="middle" font-weight="normal" fill="#111" stroke="#111" stroke-width="0.28">Twt</text>
<text x="478.0" y="425.5" font-size="7" text-anchor="middle" font-weight="normal" fill="#111" stroke="#111" stroke-width="0.28">CD40-T6</text>
</svg>
</body></html>
